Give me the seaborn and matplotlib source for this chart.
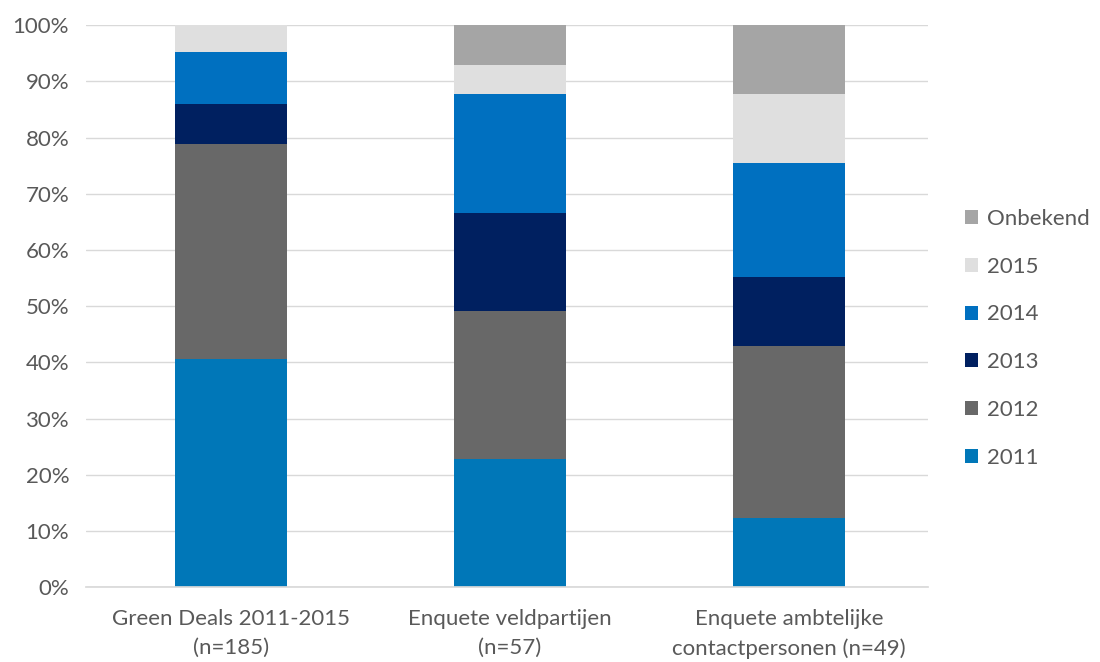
import matplotlib
matplotlib.use("Agg")
import matplotlib.pyplot as plt
import seaborn as sns
import pandas as pd
import numpy as np
from matplotlib.patches import Patch
from matplotlib.ticker import PercentFormatter

categories = ["Green Deals 2011-2015\n(n=185)", "Enquete veldpartijen\n(n=57)",
              "Enquete ambtelijke\ncontactpersonen (n=49)"]
series = ["2011", "2012", "2013", "2014", "2015", "Onbekend"]
green_deals = [75, 71, 13, 17, 9, 0]
veldpartijen = [13, 15, 10, 12, 3, 4]
ambtelijk = [6, 15, 6, 10, 6, 6]
colors = ["#0077B8", "#686868", "#002060", "#0070C0", "#DFDFDF", "#A5A5A5"]

sns.set_theme(style="white")
plt.rcParams['font.family'] = ['Lato', 'DejaVu Sans']

counts = np.array([green_deals, veldpartijen, ambtelijk], dtype=float)
pct = counts / counts.sum(axis=1, keepdims=True) * 100
cum = np.cumsum(pct, axis=1)

fig = plt.figure(figsize=(11, 6.62), dpi=100)
ax = fig.add_axes([0.078, 0.113, 0.766, 0.849])

for j in range(len(series) - 1, -1, -1):
    df = pd.DataFrame({"cat": categories, "val": cum[:, j]})
    sns.barplot(data=df, x="cat", y="val", color=colors[j], width=0.40,
                ax=ax, saturation=1, linewidth=0, zorder=2)

ax.set_ylim(0, 100)
ax.set_xlim(-0.52, 2.5)
ax.set_yticks(np.arange(0, 101, 10))
ax.yaxis.set_major_formatter(PercentFormatter(decimals=0))
ax.grid(axis="y", color="#D9D9D9", linewidth=1, zorder=0)
ax.set_axisbelow(True)
for s in ["top", "right", "left"]:
    ax.spines[s].set_visible(False)
ax.spines["bottom"].set_color("#D9D9D9")
ax.set_xlabel("")
ax.set_ylabel("")
ax.tick_params(axis="both", length=0, labelsize=16, colors="#595959")
ax.tick_params(axis="y", pad=12)
ax.tick_params(axis="x", pad=16)
for t in ax.get_xticklabels():
    t.set_linespacing(1.55)

handles = [Patch(facecolor=colors[j], edgecolor="none", label=series[j])
           for j in range(len(series) - 1, -1, -1)]
leg = fig.legend(handles=handles, loc="center left", bbox_to_anchor=(0.859, 0.489),
                 frameon=False, fontsize=16, handlelength=0.6, handleheight=0.6,
                 handletextpad=0.4, labelspacing=1.25, labelcolor="#595959")

fig.savefig("out.png", dpi=100)
